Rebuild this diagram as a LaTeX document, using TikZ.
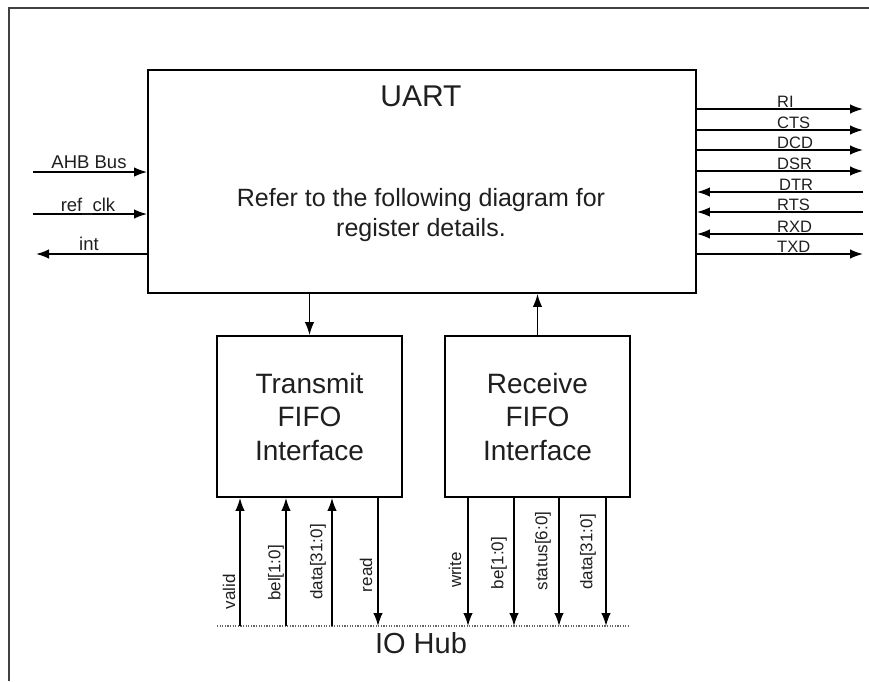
\documentclass[tikz,border=0pt]{standalone}
\usepackage{fontspec}
\setmainfont{Liberation Sans}
\usetikzlibrary{arrows.meta}
\begin{document}
\begin{tikzpicture}[x=1pt,y=-1pt,
  box/.style={draw=black, line width=1.8pt, fill=white, inner sep=0pt},
  sig/.style={draw=black, line width=1.6pt, -{Latex[length=13pt,width=9.5pt]}},
  txt/.style={inner sep=0pt, text=black!88},
  sidelbl/.style={txt, font=\fontsize{18.5}{20}\selectfont, anchor=base},
  rlbl/.style={txt, font=\fontsize{16.5}{20}\selectfont, anchor=base west},
  vlbl/.style={txt, font=\fontsize{17}{20}\selectfont, rotate=90},
  fifotxt/.style={align=center, font=\fontsize{28}{33.5}\selectfont, text=black!88},
  hub/.style={draw=black!60, line width=1.2pt, dash pattern=on 1.2pt off 1.4pt}
]
\useasboundingbox (0,0) rectangle (869,681);
\draw[line width=2pt, black!75] (9,681) -- (9,8) -- (869,8);

% UART block
\node[box, minimum width=548pt, minimum height=223pt] (uart) at (422,181.5) {};
\node[txt, font=\fontsize{30}{36}\selectfont, anchor=base] (uarttitle) at (421,106) {UART};
\node[txt, font=\fontsize{25}{30}\selectfont, anchor=base] (note1) at (421,206) {Refer to the following diagram for};
\node[txt, font=\fontsize{25}{30}\selectfont, anchor=base] (note2) at (421,236) {register details.};

% FIFO blocks
\node[box, fifotxt, minimum width=185pt, minimum height=161pt] (tx) at (309.5,416.5) {Transmit\\FIFO\\Interface};
\node[box, fifotxt, minimum width=185pt, minimum height=161pt] (rx) at (537.5,416.5) {Receive\\FIFO\\Interface};

\draw[sig] (uart.south -| tx) -- (tx.north);
\draw[sig] (rx.north) -- (rx.north |- uart.south);

% left side signals
\coordinate (ahb) at (33,172);
\coordinate (refclk) at (33,214);
\coordinate (intr) at (36,254);
\draw[sig] (ahb) -- (ahb -| uart.west);
\draw[sig] (refclk) -- (refclk -| uart.west);
\draw[sig] (intr -| uart.west) -- (intr);
\node[sidelbl] (ahblbl) at (89,168) {AHB Bus};
\node[sidelbl] (refclklbl) at (88,211) {ref\_clk};
\node[sidelbl] (intlbl) at (89,250) {int};

% right side signals
\coordinate (ri) at (863,109);
\coordinate (cts) at (863,130);
\coordinate (dcd) at (863,150);
\coordinate (dsr) at (863,171);
\coordinate (dtr) at (863,192);
\coordinate (rts) at (863,212);
\coordinate (rxd) at (863,234);
\coordinate (txd) at (863,254);
\draw[sig] (ri -| uart.east) -- (ri);
\draw[sig] (cts -| uart.east) -- (cts);
\draw[sig] (dcd -| uart.east) -- (dcd);
\draw[sig] (dsr -| uart.east) -- (dsr);
\draw[sig] (dtr) -- (dtr -| uart.east);
\draw[sig] (rts) -- (rts -| uart.east);
\draw[sig] (rxd) -- (rxd -| uart.east);
\draw[sig] (txd -| uart.east) -- (txd);
\node[rlbl] (rilbl) at (777,107) {RI};
\node[rlbl] (ctslbl) at (777,128) {CTS};
\node[rlbl] (dcdlbl) at (777,148) {DCD};
\node[rlbl] (dsrlbl) at (777,169) {DSR};
\node[rlbl] (dtrlbl) at (779,190) {DTR};
\node[rlbl] (rtslbl) at (777,210) {RTS};
\node[rlbl] (rxdlbl) at (777,232) {RXD};
\node[rlbl] (txdlbl) at (777,252) {TXD};

% IO hub
\coordinate (hubL) at (217,626);
\coordinate (hubR) at (628,626);
\draw[hub] (hubL) -- (hubR);
\node[txt, font=\fontsize{29}{34}\selectfont, anchor=base] (iohub) at (421,653) {IO Hub};

\coordinate (valid) at (240,626);
\coordinate (bel) at (286,626);
\coordinate (tdata) at (332,626);
\coordinate (read) at (378,626);
\coordinate (write) at (468,626);
\coordinate (be) at (514,626);
\coordinate (status) at (559,626);
\coordinate (rdata) at (606,626);

\draw[sig] (valid) -- (valid |- tx.south);
\draw[sig] (bel) -- (bel |- tx.south);
\draw[sig] (tdata) -- (tdata |- tx.south);
\draw[sig] (tx.south -| read) -- (read);
\draw[sig] (rx.south -| write) -- (write);
\draw[sig] (rx.south -| be) -- (be);
\draw[sig] (rx.south -| status) -- (status);
\draw[sig] (rx.south -| rdata) -- (rdata);

\node[vlbl] (validlbl) at (229,592) {valid};
\node[vlbl] (bellbl) at (276,573) {bel[1:0]};
\node[vlbl] (tdatalbl) at (318,562) {data[31:0]};
\node[vlbl] (readlbl) at (366,575) {read};
\node[vlbl] (writelbl) at (455,570) {write};
\node[vlbl] (belbl) at (499,563) {be[1:0]};
\node[vlbl] (statuslbl) at (543,551) {status[6:0]};
\node[vlbl] (rdatalbl) at (588,552) {data[31:0]};
\end{tikzpicture}
\end{document}
